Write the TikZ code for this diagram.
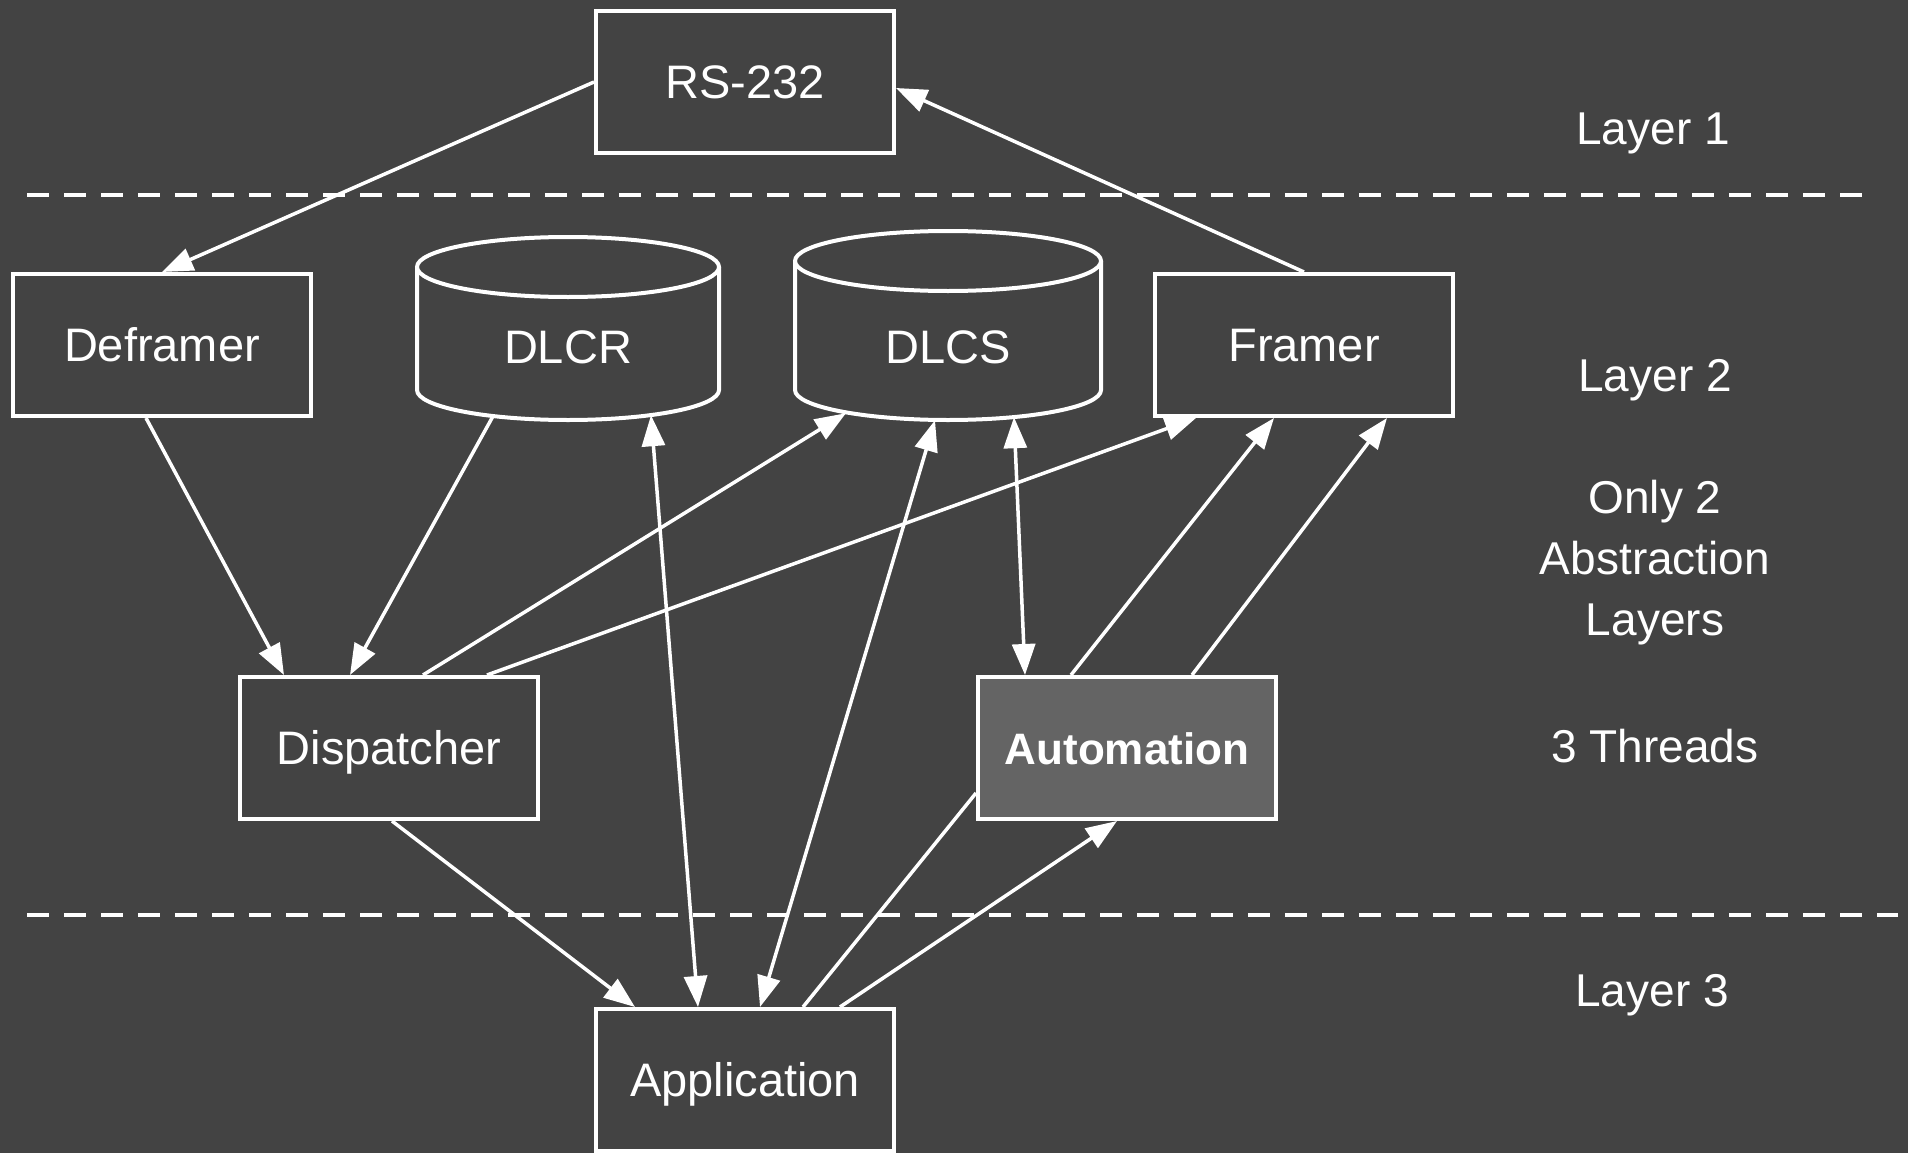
\documentclass[tikz,border=0pt]{standalone}
\usepackage{fontspec}
\setmainfont{Liberation Sans}
\usetikzlibrary{arrows.meta,calc}
\definecolor{bg}{HTML}{434343}
\definecolor{autofill}{HTML}{646464}
\begin{document}
\begin{tikzpicture}[x=1pt,y=-1pt,
  box/.style={draw=white, line width=4pt, fill=bg, minimum width=298pt, minimum height=142pt,
    text=white, font=\fontsize{47}{56}\selectfont, inner sep=0pt, text height=33pt, text depth=0pt},
  cylbody/.style={minimum height=146pt, text=white, font=\fontsize{47}{56}\selectfont,
    inner sep=0pt, text height=33pt, text depth=0pt},
  cylline/.style={draw=white, line width=4pt, fill=bg},
  conn/.style={draw=white, line width=3.5pt},
  onehead/.style={-{Triangle[length=31pt,width=23pt]}},
  twohead/.style={{Triangle[length=31pt,width=23pt]}-{Triangle[length=31pt,width=23pt]}},
  sepline/.style={draw=white, line width=4pt, dash pattern=on 22pt off 15pt},
  lbl/.style={text=white, font=\fontsize{46}{61}\selectfont, inner sep=0pt, align=center}
]
\fill[bg] (0,0) rectangle (1908,1153);
\useasboundingbox (0,0) rectangle (1908,1153);

% separators
\coordinate (d1a) at (27,195);
\coordinate (d1b) at (1868,195);
\coordinate (d2a) at (27,915);
\coordinate (d2b) at (1898,915);
\draw[sepline] (d1a) -- (d1b);
\draw[sepline] (d2a) -- (d2b);

% boxes
\node[box] (rs) at (745,82) {RS-232};
\node[box] (deframer) at (162,345) {Deframer};
\node[box] (framer) at (1304,345) {Framer};
\node[box] (dispatcher) at (389,748) {Dispatcher};
\node[box, fill=autofill, font=\fontsize{44}{53}\selectfont\bfseries] (automation) at (1127,748) {Automation};
\node[box] (application) at (745,1080) {Application};

% cylinders
\draw[cylline] (417,267) -- (417,390) arc[start angle=180,end angle=360,x radius=151pt,y radius=30pt] -- (719,267);
\draw[cylline] (568,267) ellipse [x radius=151pt, y radius=30pt];
\node[cylbody, minimum width=302pt] (dlcr) at (568,347) {DLCR};

\draw[cylline] (795,261) -- (795,390) arc[start angle=180,end angle=360,x radius=153pt,y radius=30pt] -- (1101,261);
\draw[cylline] (948,261) ellipse [x radius=153pt, y radius=30pt];
\node[cylbody, minimum width=306pt] (dlcs) at (948,347) {DLCS};

% connectors
\draw[conn,onehead] (rs.west) -- (deframer.north);
\draw[conn,onehead] (framer.north) -- ([yshift=-6pt]rs.east);
\draw[conn,onehead] ([xshift=-16pt]deframer.south) -- ([xshift=-105pt]dispatcher.north);
\draw[conn,onehead] ([xshift=-75pt,yshift=4pt]dlcr.south) -- ([xshift=-39pt]dispatcher.north);
\draw[conn,onehead] ([xshift=34pt]dispatcher.north) -- ([xshift=-102pt,yshift=7pt]dlcs.south);
\draw[conn,onehead] ([xshift=98pt]dispatcher.north) -- ([xshift=-108pt]framer.south);
\draw[conn,onehead] ([xshift=3pt]dispatcher.south) -- ([xshift=-110pt]application.north);
\draw[conn,twohead] ([xshift=83pt,yshift=5pt]dlcr.south) -- ([xshift=-47pt]application.north);
\draw[conn,twohead] ([xshift=15pt]application.north) -- ([xshift=-13pt]dlcs.south);
\draw[conn,twohead] ([xshift=66pt,yshift=3pt]dlcs.south) -- ([xshift=-102pt]automation.north);
\draw[conn,onehead] ([xshift=-56pt]automation.north) -- ([xshift=-30pt]framer.south);
\draw[conn,onehead] ([xshift=65pt]automation.north) -- ([xshift=83pt]framer.south);
\draw[conn] ([xshift=58pt]application.north) -- ([yshift=-45pt]automation.west);
\draw[conn,onehead] ([xshift=95pt]application.north) -- ([xshift=-10pt]automation.south);

% labels
\node[lbl, anchor=base] (l1) at (1653,144) {Layer 1};
\node[lbl, anchor=base] (l2) at (1655,391) {Layer 2};
\node[lbl, anchor=center] (abs) at (1655,563) {Only 2\\Abstraction\\Layers};
\node[lbl, anchor=base] (thr) at (1655,762) {3 Threads};
\node[lbl, anchor=base] (l3) at (1652,1006) {Layer 3};
\end{tikzpicture}
\end{document}
